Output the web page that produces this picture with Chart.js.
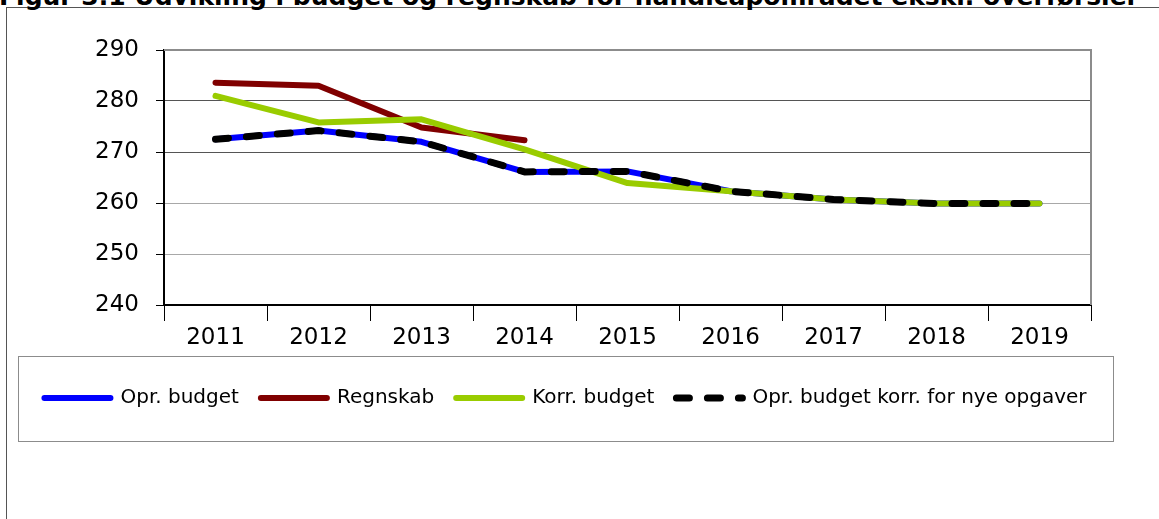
<!DOCTYPE html>
<html>
<head>
<meta charset="utf-8">
<script src="https://cdn.jsdelivr.net/npm/chart.js@4"></script>
<style>
  html, body { margin: 0; padding: 0; background: #fff; overflow: hidden; }
  #frame { position: absolute; left: 6px; top: 7px; width: 1200px; height: 600px;
           border-left: 1px solid #555; border-top: 1px solid #555; }
  #titel { position: absolute; left: -1px; top: -16px; white-space: nowrap;
           font: bold 25px "DejaVu Sans", sans-serif; line-height: 25px; color: #000; }
  #wrap { position: absolute; left: 0; top: 0; width: 1159px; height: 519px; }
</style>
</head>
<body>
<div id="frame"></div>
<div id="titel">Figur 3.1 Udvikling i budget og regnskab for handicapområdet ekskl. overførsler</div>
<div id="wrap"><canvas id="chart"></canvas></div>
<script>
// data (mio. kr.)
var aar = ['2011','2012','2013','2014','2015','2016','2017','2018','2019'];
var oprBudget = [272.5, 274.2, 272.0, 266.1, 266.2, 262.3, 260.7, 259.9, 259.9];
var regnskab = [283.6, 283.0, 274.8, 272.3, null, null, null, null, null];
var korrBudget = [281.0, 275.8, 276.4, 270.5, 263.9, 262.3, 260.7, 259.9, 259.9];
var oprKorrNye = [272.5, 274.2, 272.0, 266.1, 266.2, 262.3, 260.7, 259.9, 259.9];
var yMin = 240, yMax = 290, yStep = 10;

// grå ramme om plotområdet (top + højre) og boks om forklaringen
var rammePlugin = {
  id: 'ramme',
  beforeDatasetsDraw: function(chart) {
    var a = chart.chartArea, ctx = chart.ctx;
    ctx.save();
    ctx.strokeStyle = '#8c8c8c';
    ctx.lineWidth = 2;
    ctx.beginPath();
    ctx.moveTo(a.left, a.top);
    ctx.lineTo(a.right, a.top);
    ctx.lineTo(a.right, a.bottom);
    ctx.stroke();
    ctx.restore();
  },
  afterDraw: function(chart) {
    var lg = chart.legend, ctx = chart.ctx;
    if (!lg || !lg.legendHitBoxes.length) return;
    var hb = lg.legendHitBoxes[0];
    var cy = hb.top + hb.height / 2;
    ctx.save();
    ctx.strokeStyle = '#8c8c8c';
    ctx.lineWidth = 1;
    ctx.strokeRect(18.5, Math.round(cy - 42) + 0.5, 1095, 85);
    ctx.restore();
  }
};

function cargarGraf() {
  var ctx = document.getElementById('chart').getContext('2d');
  var gridFarver = ['#000', '#a8a8a8', '#a8a8a8', '#555', '#555', '#8c8c8c'];

  new Chart(ctx, {
    type: 'line',
    data: {
      labels: aar,
      datasets: [
        { label: 'Opr. budget', data: oprBudget, borderColor: '#0000ff', borderWidth: 6, order: 4 },
        { label: 'Regnskab', data: regnskab, borderColor: '#800000', borderWidth: 6, order: 3 },
        { label: 'Korr. budget', data: korrBudget, borderColor: '#99cc00', borderWidth: 6, order: 2 },
        { label: 'Opr. budget korr. for nye opgaver', data: oprKorrNye, borderColor: '#000000',
          borderWidth: 7, borderDash: [13, 18], order: 1 }
      ]
    },
    options: {
      responsive: true,
      maintainAspectRatio: false,
      animation: false,
      events: [],
      layout: { padding: { left: 18, right: 46, top: 50, bottom: 101 } },
      elements: {
        point: { radius: 0 },
        line: { tension: 0, borderCapStyle: 'round', borderJoinStyle: 'round', fill: false }
      },
      scales: {
        x: {
          offset: true,
          grid: { offset: true, drawOnChartArea: false, tickLength: 16, color: '#000', lineWidth: 1 },
          border: { color: '#000', width: 2 },
          ticks: { color: '#000', padding: 3, maxRotation: 0, font: { family: 'DejaVu Sans', size: 23 } },
          afterFit: function(s) { s.height = 61; }
        },
        y: {
          min: yMin, max: yMax,
          grid: {
            tickLength: 8, tickColor: '#000',
            color: function(c) { return gridFarver[c.index] || '#888'; },
            lineWidth: 1
          },
          border: { color: '#000', width: 2 },
          ticks: { stepSize: yStep, color: '#000', padding: 17, font: { family: 'DejaVu Sans', size: 23 } },
          afterFit: function(s) { s.width = 146; }
        },
        y2: {
          position: 'right', display: true,
          grid: { display: false }, border: { display: false },
          ticks: { display: false },
          afterFit: function(s) { s.width = 22; }
        }
      },
      plugins: {
        title: { display: false },
        tooltip: { enabled: false },
        legend: {
          position: 'bottom',
          labels: {
            usePointStyle: true, pointStyle: 'line', pointStyleWidth: 66,
            color: '#000', padding: 22,
            font: { family: 'DejaVu Sans', size: 20 },
            sort: function(a, b) { return a.datasetIndex - b.datasetIndex; },
            generateLabels: function(chart) {
              var items = Chart.defaults.plugins.legend.labels.generateLabels(chart);
              items.forEach(function(it) {
                var ds = chart.data.datasets[it.datasetIndex];
                it.lineDash = ds.borderDash || [];
                it.lineWidth = ds.borderWidth;
                it.lineCap = 'round';
              });
              return items;
            }
          }
        }
      }
    },
    plugins: [rammePlugin]
  });
}

document.addEventListener('DOMContentLoaded', cargarGraf);
</script>
</body>
</html>
